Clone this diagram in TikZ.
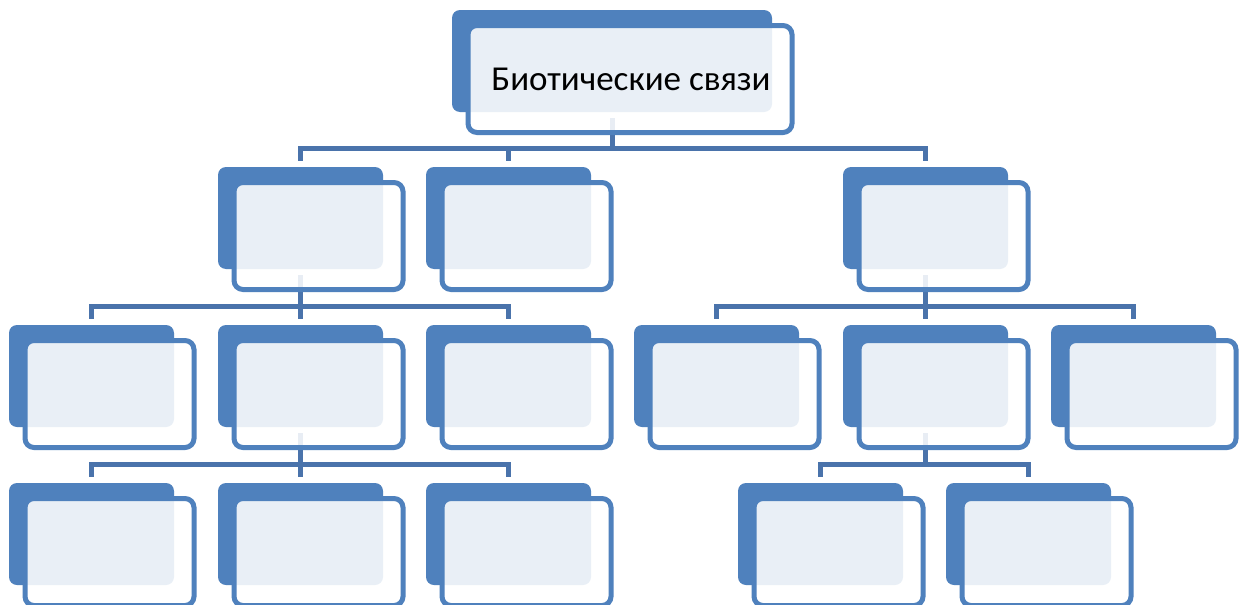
\documentclass[tikz,border=0pt]{standalone}
\usepackage{fontspec}
\setmainfont{Carlito}
\usetikzlibrary{calc}
\definecolor{accent}{HTML}{4F81BD}
\definecolor{connc}{HTML}{4A73AB}
\pgfdeclarelayer{bg}
\pgfdeclarelayer{paper}
\pgfsetlayers{paper,bg,main}
\tikzset{
  backbox/.style={rectangle, rounded corners=8pt, fill=accent, draw=none, inner sep=0pt, outer sep=0pt, anchor=north west, minimum height=102pt},
  frontbox/.style={rectangle, rounded corners=9pt, fill=white, fill opacity=0.88, text opacity=1, draw=accent, draw opacity=1, line width=5pt, inner sep=0pt, outer sep=0pt, anchor=north west, minimum height=107pt},
  conn/.style={draw=connc, line width=5pt},
}
\newcommand{\mkunit}[5]{% name, x, y, w, text
  \node[backbox, minimum width=#4pt] (#1) at (#2,-#3) {};
  \node[frontbox, minimum width=#4pt+4pt] (#1f) at ($(#1.north west)+(16pt,-15.5pt)$) {#5};
}
\newcommand{\link}[2]{%
  \begin{pgfonlayer}{bg}
  \draw[conn] ($(#1.south)+(0,-6pt)$) |- ($(#2.north)+(0,19pt)$) -- ($(#2.north)+(0,6pt)$);
  \end{pgfonlayer}
}
\begin{document}
\begin{tikzpicture}[x=1pt,y=1pt]
\begin{pgfonlayer}{paper}
\fill[white] (0,0) rectangle (1243,-605);
\end{pgfonlayer}
\useasboundingbox (0,0) rectangle (1243,-605);
\mkunit{n1}{452}{10}{320}{\fontsize{35pt}{40pt}\selectfont\hspace*{2pt}Биотические связи}
\mkunit{n2a}{218}{167}{165}{}
\mkunit{n2b}{426}{167}{165}{}
\mkunit{n2c}{843}{167}{165}{}
\mkunit{n3a}{9}{325}{165}{}
\mkunit{n3b}{218}{325}{165}{}
\mkunit{n3c}{426}{325}{165}{}
\mkunit{n3d}{634}{325}{165}{}
\mkunit{n3e}{843}{325}{165}{}
\mkunit{n3f}{1051}{325}{165}{}
\mkunit{n4a}{9}{483}{165}{}
\mkunit{n4b}{218}{483}{165}{}
\mkunit{n4c}{426}{483}{165}{}
\mkunit{n4d}{738}{483}{165}{}
\mkunit{n4e}{946}{483}{165}{}
\link{n1}{n2a}\link{n1}{n2b}\link{n1}{n2c}
\link{n2a}{n3a}\link{n2a}{n3b}\link{n2a}{n3c}
\link{n2c}{n3d}\link{n2c}{n3e}\link{n2c}{n3f}
\link{n3b}{n4a}\link{n3b}{n4b}\link{n3b}{n4c}
\link{n3e}{n4d}\link{n3e}{n4e}
\end{tikzpicture}
\end{document}
